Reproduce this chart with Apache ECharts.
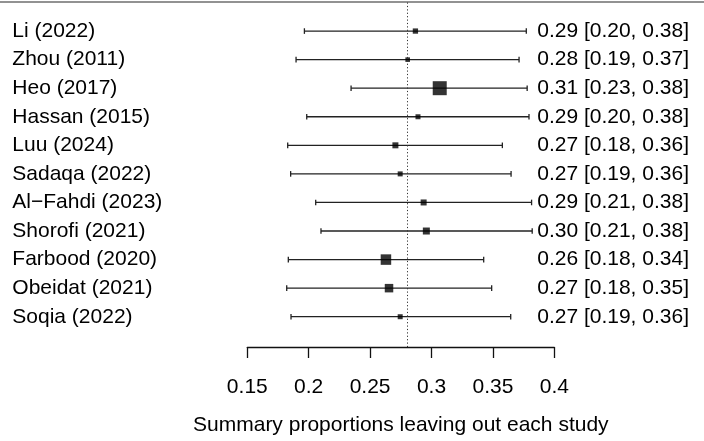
<!DOCTYPE html>
<html>
<head>
<meta charset="utf-8">
<script src="https://cdn.jsdelivr.net/npm/echarts@6/dist/echarts.min.js"></script>
<style>
  html, body { margin: 0; padding: 0; background: #fff; }
  #chart { width: 704px; height: 441px; }
</style>
</head>
<body>
<div id="chart"></div>
<script>
// studies, top to bottom
var studies = ['Li (2022)', 'Zhou (2011)', 'Heo (2017)', 'Hassan (2015)', 'Luu (2024)', 'Sadaqa (2022)',
  'Al\u2212Fahdi (2023)', 'Shorofi (2021)', 'Farbood (2020)', 'Obeidat (2021)', 'Soqia (2022)']
// summary proportion leaving out each study
var estimate = [0.2869, 0.2806, 0.3067, 0.2890, 0.2706, 0.2745, 0.2936, 0.2958, 0.2629, 0.2654, 0.2745]
var lower = [0.1965, 0.1897, 0.2345, 0.1984, 0.1829, 0.1853, 0.2057, 0.2100, 0.1834, 0.1821, 0.1856]
var upper = [0.3772, 0.3713, 0.3779, 0.3794, 0.3577, 0.3648, 0.3815, 0.3820, 0.3425, 0.3490, 0.3645]
// relative box weight
var weight = [5.3, 4.6, 14, 5, 6, 5, 6, 7, 10.5, 8.5, 5]
// overall estimate (dotted reference line)
var overall = 0.2817
var xTicks = [0.15, 0.2, 0.25, 0.3, 0.35, 0.4]

var font = 'Liberation Sans, Arial, sans-serif'

var ciData = studies.map(function (s, i) { return [i, lower[i], upper[i]] })
var boxData = studies.map(function (s, i) { return [estimate[i], i, weight[i]] })
var rightLabels = studies.map(function (s, i) {
  return estimate[i].toFixed(2) + ' [' + lower[i].toFixed(2) + ', ' + upper[i].toFixed(2) + ']'
})

var chart = echarts.init(document.getElementById('chart'))
var option = {
  animation: false,
  backgroundColor: '#fff',
  textStyle: { fontFamily: font },
  grid: { left: 247.3, right: 149.7, top: 2.5, bottom: 89.3 },
  graphic: [{
    type: 'line',
    shape: { x1: 0, y1: 2, x2: 704, y2: 2 },
    style: { stroke: '#6e6e6e', lineWidth: 1.5 }
  }],
  xAxis: {
    type: 'value',
    min: xTicks[0],
    max: xTicks[xTicks.length - 1],
    interval: 0.05,
    name: 'Summary proportions leaving out each study',
    nameLocation: 'middle',
    nameGap: 68,
    nameTextStyle: { color: '#000', fontSize: 21, fontFamily: font },
    axisLine: { onZero: false, lineStyle: { color: '#111', width: 1.3 } },
    axisTick: { length: 11, lineStyle: { color: '#111', width: 1.3 } },
    axisLabel: { color: '#000', fontSize: 21, margin: 30, fontFamily: font },
    splitLine: { show: false }
  },
  yAxis: [
    {
      type: 'value',
      inverse: true,
      min: -1,
      max: 11.06,
      interval: 1,
      axisLine: { show: false },
      axisTick: { show: false },
      splitLine: { show: false },
      axisLabel: {
        align: 'left',
        margin: 235,
        color: '#000',
        fontSize: 21,
        fontFamily: font,
        formatter: function (v) { return studies[v] || '' }
      }
    },
    {
      type: 'value',
      position: 'right',
      inverse: true,
      min: -1,
      max: 11.06,
      interval: 1,
      axisLine: { show: false },
      axisTick: { show: false },
      splitLine: { show: false },
      axisLabel: {
        align: 'right',
        margin: 134.7,
        color: '#000',
        fontSize: 21,
        fontFamily: font,
        formatter: function (v) { return rightLabels[v] || '' }
      }
    }
  ],
  series: [
    {
      type: 'custom',
      data: ciData,
      encode: { x: [1, 2], y: 0 },
      renderItem: function (params, api) {
        var a = api.coord([api.value(1), api.value(0)])
        var b = api.coord([api.value(2), api.value(0)])
        var st = { stroke: '#222', lineWidth: 1.3 }
        return {
          type: 'group',
          children: [
            { type: 'line', shape: { x1: a[0], y1: a[1], x2: b[0], y2: b[1] }, style: st },
            { type: 'line', shape: { x1: a[0], y1: a[1] - 2.8, x2: a[0], y2: a[1] + 2.8 }, style: st },
            { type: 'line', shape: { x1: b[0], y1: b[1] - 2.8, x2: b[0], y2: b[1] + 2.8 }, style: st }
          ]
        }
      },
      markLine: {
        silent: true,
        symbol: 'none',
        label: { show: false },
        lineStyle: { color: '#333', type: [1.2, 2.2], width: 1 },
        data: [{ xAxis: overall }]
      }
    },
    {
      type: 'scatter',
      data: boxData,
      symbol: 'rect',
      symbolSize: function (v) { return v[2] },
      itemStyle: { color: '#000' }
    }
  ]
}
chart.setOption(option)
</script>
</body>
</html>
